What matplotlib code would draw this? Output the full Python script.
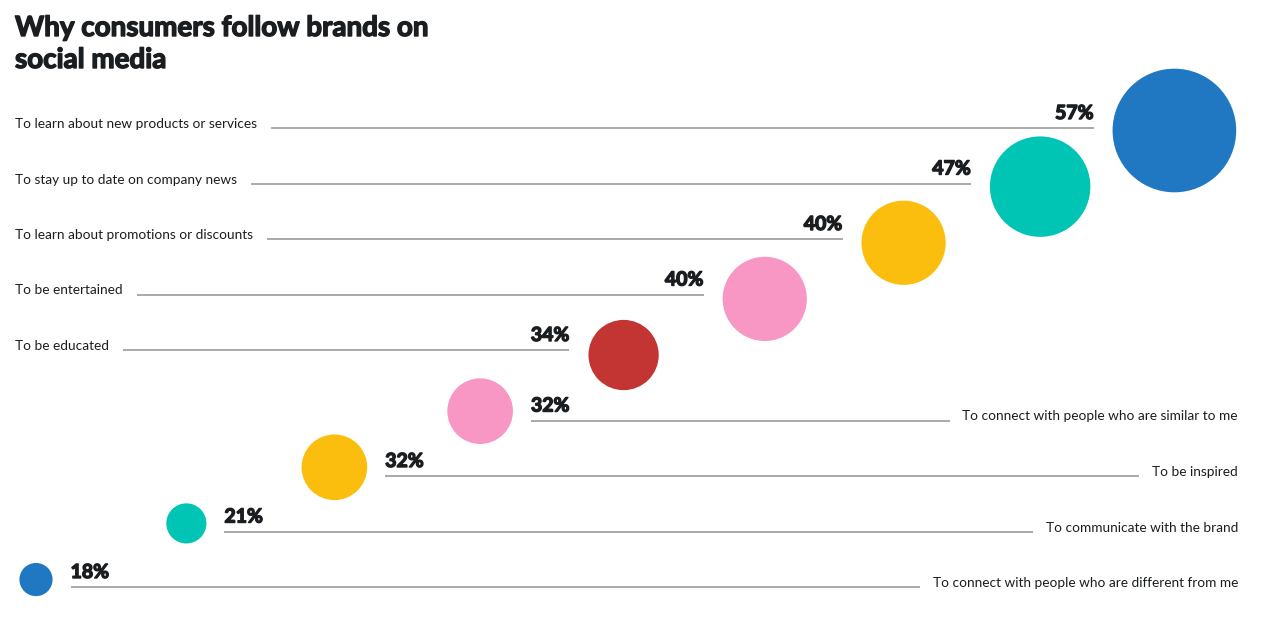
import matplotlib
matplotlib.use('Agg')
import matplotlib.pyplot as plt
import matplotlib.patheffects as pe
from matplotlib.patches import Circle

# rows, top to bottom
reasons = [
    'To learn about new products or services',
    'To stay up to date on company news',
    'To learn about promotions or discounts',
    'To be entertained',
    'To be educated',
    'To connect with people who are similar to me',
    'To be inspired',
    'To communicate with the brand',
    'To connect with people who are different from me',
]
shares = [57, 47, 40, 40, 34, 32, 32, 21, 18]
bubble_colors = ['#1F78C1', '#00C5B4', '#FCBE0E', '#F896C4', '#C23533',
                 '#F896C4', '#FCBE0E', '#00C5B4', '#1F78C1']
title_lines = ['Why consumers follow brands on', 'social media']

plt.rcParams['font.family'] = ['Lato', 'DejaVu Sans']

W, H = 1280, 623
fig = plt.figure(figsize=(W / 100, H / 100), dpi=100)
ax = fig.add_axes([0, 0, 1, 1])
ax.set_xlim(0, W)
ax.set_ylim(H, 0)
ax.axis('off')

TEXT = '#1b1e21'
LINE = '#9b9b9b'
heavy = [pe.withStroke(linewidth=1.0, foreground=TEXT)]
n = len(shares)
renderer = fig.canvas.get_renderer()
inv = ax.transData.inverted()


def text_x_range(t):
    bb = t.get_window_extent(renderer)
    (x0, _), (x1, _) = inv.transform([(bb.x0, bb.y0), (bb.x1, bb.y1)])
    return x0, x1


# title, one text per line
for k, line in enumerate(title_lines):
    ax.text(15, 36 + 32 * k, line, fontsize=20, fontweight='bold',
            color=TEXT, va='baseline', ha='left', path_effects=heavy)

for i, (label, v, col) in enumerate(zip(reasons, shares, bubble_colors)):
    j = n - 1 - i                      # rank from the bottom
    cx = 36 + 151.5 * j - 1.15 * j ** 2
    cy = 130.5 + 56.13 * i
    r = 1.16 * v - 4.3
    ax.add_patch(Circle((cx, cy), r, color=col, lw=0))

    top_half = i < 5
    ly = 128 + 55.5 * i + (0 if top_half else 15)
    if top_half:
        t = ax.text(15, ly, label, fontsize=9.8, color=TEXT,
                    ha='left', va='baseline')
        x0 = text_x_range(t)[1] + 14
        x1 = cx - r - 19
        ax.plot([x0, x1], [ly, ly], color=LINE, lw=1.2,
                solid_capstyle='butt')
        ax.text(x1, ly - 9, f'{v}%', fontsize=14, fontweight='bold',
                color=TEXT, ha='right', va='baseline', path_effects=heavy)
    else:
        t = ax.text(1238, ly, label, fontsize=9.8, color=TEXT,
                    ha='right', va='baseline')
        x0 = cx + r + 18
        x1 = text_x_range(t)[0] - 13
        ax.plot([x0, x1], [ly, ly], color=LINE, lw=1.2,
                solid_capstyle='butt')
        ax.text(x0, ly - 9, f'{v}%', fontsize=14, fontweight='bold',
                color=TEXT, ha='left', va='baseline', path_effects=heavy)

fig.savefig('out.png', dpi=100, facecolor='white')
